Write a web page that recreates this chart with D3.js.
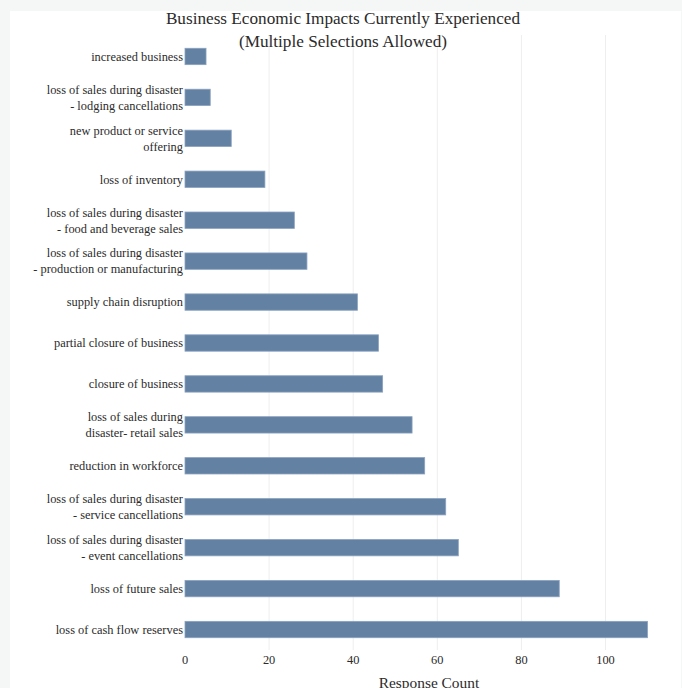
<!DOCTYPE html>
<html><head><meta charset="utf-8">
<script src="https://cdn.jsdelivr.net/npm/d3@7"></script>
<style>
html,body{margin:0;padding:0;background:#f5f7f7;}
svg{display:block;}
svg text{font-family:"Liberation Serif","Times New Roman",serif;}
</style></head>
<body>
<svg id="chart" width="682" height="688"></svg>
<script>
const categories = [
  ["increased business"],
  ["loss of sales during disaster", "- lodging cancellations"],
  ["new product or service", "offering"],
  ["loss of inventory"],
  ["loss of sales during disaster", "- food and beverage sales"],
  ["loss of sales during disaster", "- production or manufacturing"],
  ["supply chain disruption"],
  ["partial closure of business"],
  ["closure of business"],
  ["loss of sales during", "disaster- retail sales"],
  ["reduction in workforce"],
  ["loss of sales during disaster", "- service cancellations"],
  ["loss of sales during disaster", "- event cancellations"],
  ["loss of future sales"],
  ["loss of cash flow reserves"]
];
const counts = [5, 6, 11, 19, 26, 29, 41, 46, 47, 54, 57, 62, 65, 89, 110];
const xTicks = [0, 20, 40, 60, 80, 100];
const titleLines = ["Business Economic Impacts Currently Experienced", "(Multiple Selections Allowed)"];
const xTitle = "Response Count";

const svg = d3.select("#chart");

svg.append("rect").attr("x", 10).attr("y", 11).attr("width", 671).attr("height", 677).attr("fill", "#ffffff");

const keys = categories.map((c, i) => i);
const x = d3.scaleLinear().domain([0, 100]).range([185, 605.5]);
const y = d3.scaleBand().domain(keys).range([36, 650]).paddingInner(0.6).paddingOuter(0.3);

// gridlines
svg.append("g").selectAll("line").data(xTicks.filter(d => d > 0)).join("line")
  .attr("x1", d => x(d)).attr("x2", d => x(d))
  .attr("y1", 35).attr("y2", 650)
  .attr("stroke", "#eeeeee").attr("stroke-width", 1);

// bars
svg.append("g").selectAll("rect").data(counts).join("rect")
  .attr("x", x(0))
  .attr("y", (d, i) => y(i))
  .attr("width", d => x(d) - x(0))
  .attr("height", y.bandwidth())
  .attr("fill", "#6381a3")
  .attr("stroke", "#8aa2bf").attr("stroke-width", 0.8);

// category labels
const lab = svg.append("g").selectAll("text").data(categories).join("text")
  .attr("text-anchor", "end")
  .attr("font-size", 12.4).attr("fill", "#2b2b2b");
lab.each(function(lines, i) {
  const cy = y(i) + y.bandwidth() / 2;
  const t = d3.select(this);
  lines.forEach((ln, j) => {
    const off = lines.length === 1 ? 0 : (j === 0 ? -8 : 8);
    t.append("tspan").attr("x", 183).attr("y", cy + off).attr("dy", "0.35em").text(ln);
  });
});

// x axis tick labels
svg.append("g").selectAll("text").data(xTicks).join("text")
  .attr("x", d => x(d)).attr("y", 664)
  .attr("text-anchor", "middle")
  .attr("font-size", 12.4).attr("fill", "#2b2b2b")
  .text(d => d);

// x axis title
svg.append("text").attr("x", 429).attr("y", 688)
  .attr("text-anchor", "middle")
  .attr("font-size", 15.4).attr("fill", "#2b2b2b")
  .text(xTitle);

// title
svg.append("g").selectAll("text").data(titleLines).join("text")
  .attr("x", 343).attr("y", (d, i) => 24 + i * 22.5)
  .attr("text-anchor", "middle")
  .attr("font-size", 17.2).attr("fill", "#2b2b2b")
  .text(d => d);
</script>
</body></html>
